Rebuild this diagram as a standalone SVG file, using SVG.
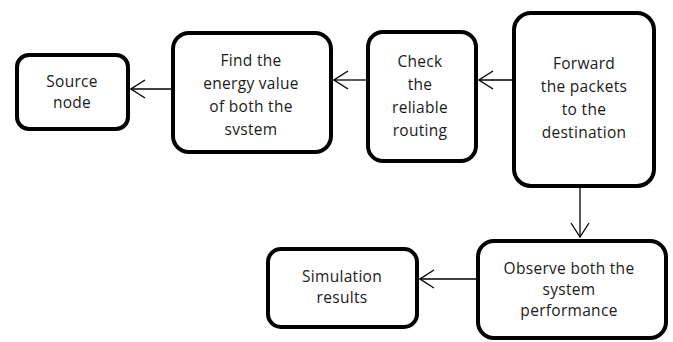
<svg xmlns="http://www.w3.org/2000/svg" width="673" height="342" viewBox="0 0 673 342">
<defs>
<style>
.box{fill:#fff;stroke:#000;stroke-width:4}
.t{font-family:"Open Sans","Liberation Sans",sans-serif;font-size:15.5px;letter-spacing:0.3px;fill:#1a1a1a;text-anchor:middle}
.c{stroke:#000;stroke-width:1.3;fill:none}
.ah{stroke:#000;stroke-width:1.3;fill:none}
</style>
<marker id="arr" viewBox="0 0 16 20" refX="15" refY="10" markerWidth="16" markerHeight="20" markerUnits="userSpaceOnUse" orient="auto">
<path d="M1,1 L15,10 L1,19" class="ah"/>
</marker>
</defs>
<rect width="673" height="342" fill="#fff"/>
<g id="source">
<rect class="box" x="17" y="55" width="111" height="74" rx="12"/>
<text class="t" x="72" y="87">Source</text>
<text class="t" x="72" y="108">node</text>
</g>
<g id="find">
<rect class="box" x="173" y="33" width="158" height="119" rx="16"/>
<text class="t" x="251" y="66">Find the</text>
<text class="t" x="251" y="89">energy value</text>
<text class="t" x="251" y="112">of both the</text>
<text class="t" x="251" y="135">svstem</text>
</g>
<g id="check">
<rect class="box" x="368" y="32" width="108" height="129" rx="15"/>
<text class="t" x="420" y="67">Check</text>
<text class="t" x="420" y="90">the</text>
<text class="t" x="420" y="113">reliable</text>
<text class="t" x="420" y="136">routing</text>
</g>
<g id="forward">
<rect class="box" x="514" y="13" width="140" height="173" rx="17"/>
<text class="t" x="584" y="69">Forward</text>
<text class="t" x="584" y="92">the packets</text>
<text class="t" x="584" y="115">to the</text>
<text class="t" x="584" y="138">destination</text>
</g>
<g id="observe">
<rect class="box" x="478" y="241" width="188" height="97" rx="16"/>
<text class="t" x="569" y="274">Observe both the</text>
<text class="t" x="569" y="295">system</text>
<text class="t" x="569" y="316">performance</text>
</g>
<g id="simulation">
<rect class="box" x="268" y="249" width="149" height="78" rx="13"/>
<text class="t" x="342" y="282">Simulation</text>
<text class="t" x="342" y="303">results</text>
</g>
<g id="connectors">
<line class="c" x1="171" y1="89" x2="131" y2="89" marker-end="url(#arr)"/>
<line class="c" x1="366" y1="80" x2="334" y2="80" marker-end="url(#arr)"/>
<line class="c" x1="512" y1="80" x2="479" y2="80" marker-end="url(#arr)"/>
<line class="c" x1="580" y1="188" x2="580" y2="237" marker-end="url(#arr)"/>
<line class="c" x1="476" y1="279" x2="420" y2="279" marker-end="url(#arr)"/>
</g>
</svg>
